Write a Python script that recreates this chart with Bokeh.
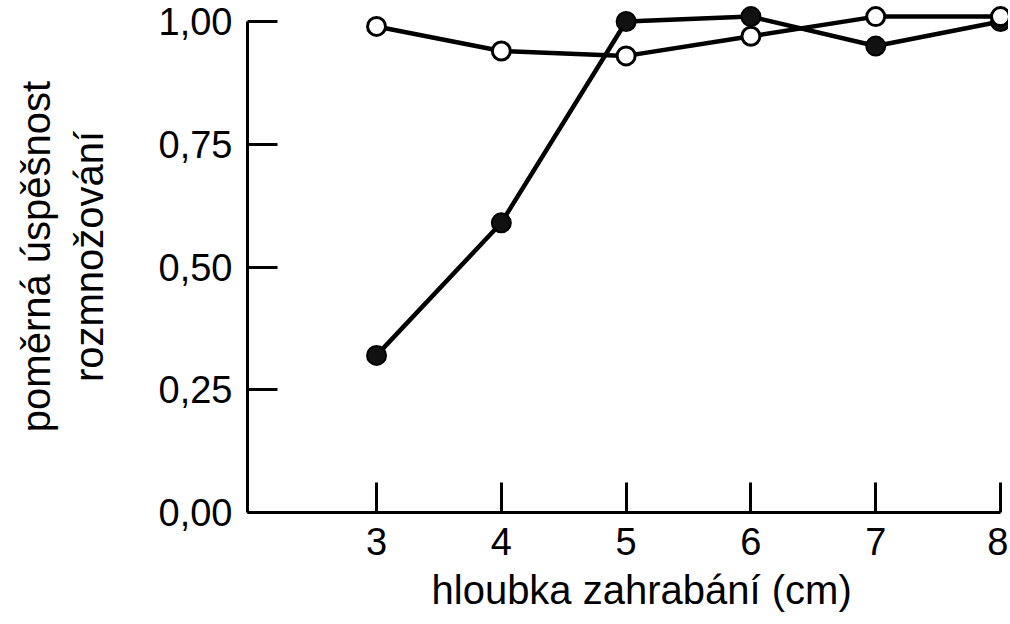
from bokeh.plotting import figure
from bokeh.models import Range1d, FixedTicker, Title
from bokeh.embed import file_html
from bokeh.resources import INLINE

# data
depth = [3, 4, 5, 6, 7, 8]
open_vals = [0.99, 0.94, 0.93, 0.97, 1.01, 1.01]
filled_vals = [0.32, 0.59, 1.00, 1.01, 0.95, 1.00]

x_ticks = [3, 4, 5, 6, 7, 8]
y_ticks = [0.0, 0.25, 0.5, 0.75, 1.0]
y_tick_labels = ["0,00", "0,25", "0,50", "0,75", "1,00"]

x_label = "hloubka zahrabání (cm)"
y_label = "poměrná úspěšnost\nrozmnožování"

FONT = "Liberation Sans"

p = figure(width=1008, height=622, output_backend="svg", toolbar_location=None,
           x_range=Range1d(1.966, 8.064), y_range=Range1d(0, 1.0428),
           min_border_left=247, min_border_right=0, min_border_top=0,
           min_border_bottom=110)
p.outline_line_color = None
p.grid.visible = False
p.background_fill_color = "white"
p.border_fill_color = "white"

# lines and markers
p.line(depth, filled_vals, line_color="black", line_width=4.5)
p.line(depth, open_vals, line_color="black", line_width=4.5)
p.scatter(depth, filled_vals, size=19, fill_color="#111111", line_color="black", line_width=2)
p.scatter(depth, open_vals, size=18, fill_color="white", line_color="black", line_width=3)

# axes
for ax in (p.xaxis[0], p.yaxis[0]):
    ax.axis_line_width = 3
    ax.axis_line_color = "black"
    ax.major_tick_line_width = 3
    ax.major_tick_line_color = "black"
    ax.major_tick_in = 30
    ax.major_tick_out = 0
    ax.minor_tick_line_color = None
    ax.major_label_text_font = FONT
    ax.major_label_text_font_size = "38px"
    ax.major_label_text_color = "black"
    ax.axis_label_text_font = FONT
    ax.axis_label_text_font_size = "40px"
    ax.axis_label_text_font_style = "normal"
    ax.axis_label_text_color = "black"
    ax.major_label_standoff = 15

p.xaxis[0].ticker = FixedTicker(ticks=x_ticks)
p.xaxis[0].bounds = (1.966, 8)

p.yaxis[0].ticker = FixedTicker(ticks=y_ticks)
p.yaxis[0].major_label_overrides = dict(zip(y_ticks, y_tick_labels))
p.yaxis[0].bounds = (0, 1)
p.yaxis[0].axis_label = y_label
p.yaxis[0].axis_label_standoff = 45

xt = Title(text=x_label, align="left", offset=184, standoff=16,
           text_font=FONT, text_font_size="40px", text_font_style="normal",
           text_line_height=1.0, text_color="black")
p.add_layout(xt, "below")

open("out.html", "w").write(file_html(p, INLINE))
